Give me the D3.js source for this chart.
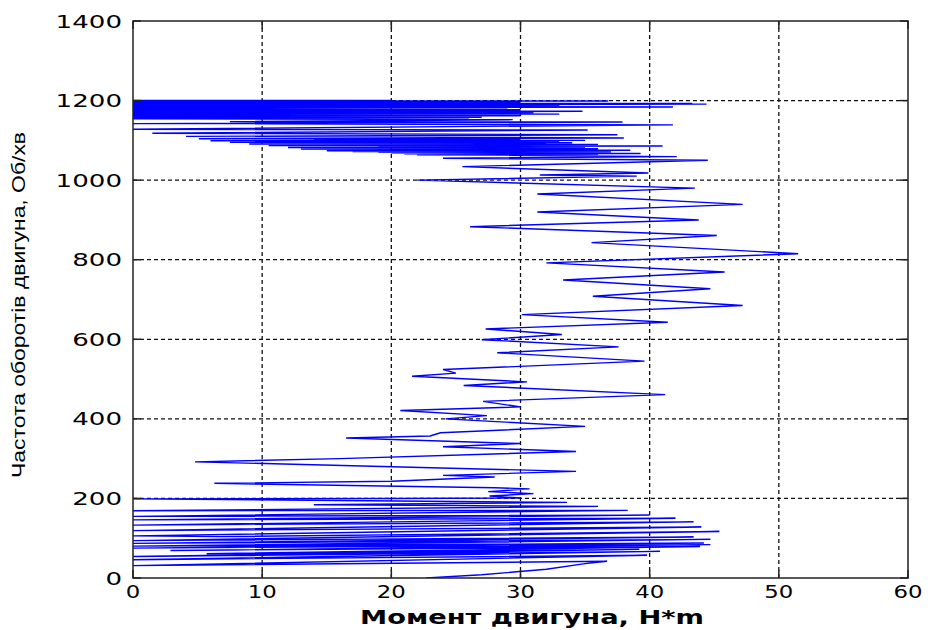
<!DOCTYPE html>
<html>
<head>
<meta charset="utf-8">
<script src="https://cdn.jsdelivr.net/npm/d3@7"></script>
<style>
  body { margin: 0; background: #fff; }
</style>
</head>
<body>
<div id="container"></div>
<script>
const width = 928, height = 630
const margin = {top: 21, right: 20, bottom: 52, left: 133}

const xTicks = [0, 10, 20, 30, 40, 50, 60]
const yTicks = [0, 200, 400, 600, 800, 1000, 1200, 1400]

// [torque, speed] turning points
// start-up, torque swinging down to the axis
const launch = [
    [22.7, 0], [27, 8], [32, 22], [35, 36], [36.7, 42],
    [0, 31], [39.8, 57],
    [0, 46], [40.8, 67],
    [0, 54], [39.2, 72],
    [5.7, 61], [43.9, 79],
    [2.9, 69], [44.7, 84],
    [0, 75], [44.2, 88],
    [0, 80], [44.7, 97],
    [0, 87], [43.4, 103],
    [0, 94], [45.4, 117],
    [6.7, 104], [0, 106], [44.0, 128],
    [0, 119], [43.4, 141],
    [0, 133], [42, 150],
    [0, 146], [40, 158],
    [0, 155], [38.3, 170],
    [0, 169], [36, 180],
    [14, 184], [33.6, 190],
    [0, 199]
]

// acceleration, 200..1060 rpm
const accel = [
    [20, 200], [30, 201], [27.6, 206], [31, 212], [27.5, 217], [30.7, 224], [28, 227],
    [6.3, 238], [20, 243], [28, 254], [24, 258], [34.3, 268], [4.8, 292], [16, 300],
    [34.3, 318], [24, 330], [30, 338], [16.5, 352], [23, 357], [23.8, 365], [35, 381],
    [24.2, 400], [27.4, 408], [20.7, 421], [30, 430], [27.1, 444], [41.2, 461],
    [25.6, 484], [30.5, 493], [21.6, 507], [25, 515], [24, 524], [39.6, 545],
    [28.2, 566], [37.6, 581], [27, 599], [33.2, 612], [27.3, 626], [41.4, 643],
    [30.1, 662], [47.2, 685], [35.6, 708], [44.7, 727], [33.3, 749], [45.8, 769],
    [32, 792], [51.5, 815], [35.5, 843], [45.2, 861], [26.1, 883], [43.8, 900],
    [31.3, 920], [47.2, 939], [31.3, 965], [43.5, 980], [22, 1000], [39, 1010],
    [31.5, 1013], [39.9, 1018], [25.5, 1034], [44.5, 1050], [24, 1055], [42.1, 1059]
]

// settling near 1200 rpm
const settle = [
    [22, 1064], [36, 1065], [21, 1066], [39.3, 1067], [20, 1068], [33, 1069],
    [19, 1070], [37, 1071], [17, 1072], [35, 1073], [15, 1074], [38.5, 1075],
    [20, 1076], [33, 1077], [13, 1078], [36, 1079], [18, 1080], [34, 1081],
    [12, 1082], [35, 1083], [19, 1084], [41, 1086], [10.5, 1087], [33, 1088],
    [17, 1089], [36, 1090], [9, 1091], [32, 1092], [16, 1093], [34, 1094],
    [7.5, 1095], [33, 1096], [18, 1097], [31, 1098], [6, 1099], [35, 1100],
    [14, 1101], [30, 1102], [5.1, 1104], [38, 1106], [4.1, 1110], [37.5, 1114],
    [1.5, 1118], [35.2, 1126], [0, 1128], [41.8, 1139], [0, 1142], [37.9, 1146],
    [7.5, 1147], [29.4, 1152], [0, 1154], [26, 1156], [0, 1157], [27, 1158],
    [0, 1159], [25, 1160], [0, 1161], [30, 1162], [0, 1163], [27, 1164],
    [0, 1165], [33, 1166], [0, 1167], [28, 1168], [0, 1169], [31, 1170],
    [0, 1171], [34.8, 1173], [0, 1174], [27, 1175], [0, 1176], [30, 1177],
    [0, 1178], [26, 1179], [0, 1180], [29, 1181], [0, 1182], [41.8, 1184],
    [0, 1185], [28, 1186], [0, 1187], [33, 1188], [0, 1189], [44.4, 1191],
    [0, 1192], [43.3, 1193], [0, 1194], [30, 1195], [0, 1196], [27, 1197],
    [0, 1198], [36.8, 1199], [0, 1200], [20, 1200]
]

const trace = launch.concat(accel, settle)

const x = d3.scaleLinear().domain([0, 60]).range([margin.left, width - margin.right])
const y = d3.scaleLinear().domain([0, 1400]).range([height - margin.bottom, margin.top])

const svg = d3.select("#container").append("svg")
    .attr("width", width)
    .attr("height", height)

svg.append("clipPath").attr("id", "plot-clip")
    .append("rect")
    .attr("x", x(0)).attr("y", y(1400))
    .attr("width", x(60) - x(0)).attr("height", y(0) - y(1400))

// grid
const grid = svg.append("g").attr("stroke", "#111").attr("stroke-width", 1.3).attr("stroke-dasharray", "4,3")
grid.selectAll(".gx").data(xTicks.slice(1, -1)).enter().append("line")
    .attr("x1", d => x(d)).attr("x2", d => x(d))
    .attr("y1", y(0)).attr("y2", y(1400))
grid.selectAll(".gy").data(yTicks.slice(1, -1)).enter().append("line")
    .attr("x1", x(0)).attr("x2", x(60))
    .attr("y1", d => y(d)).attr("y2", d => y(d))

// the trace
const line = d3.line().x(d => x(d[0])).y(d => y(d[1]))
svg.append("path")
    .datum(trace)
    .attr("clip-path", "url(#plot-clip)")
    .attr("fill", "none")
    .attr("stroke", "#0000ff")
    .attr("stroke-width", 1.4)
    .attr("stroke-linejoin", "miter")
    .attr("d", line)

// box and inward ticks
const axes = svg.append("g").attr("stroke", "#222").attr("stroke-width", 1.5).attr("fill", "none")
axes.append("rect")
    .attr("x", x(0)).attr("y", y(1400))
    .attr("width", x(60) - x(0)).attr("height", y(0) - y(1400))
const tl = 8
xTicks.forEach(t => {
    axes.append("line").attr("x1", x(t)).attr("x2", x(t)).attr("y1", y(0)).attr("y2", y(0) - tl)
    axes.append("line").attr("x1", x(t)).attr("x2", x(t)).attr("y1", y(1400)).attr("y2", y(1400) + tl)
})
yTicks.forEach(t => {
    axes.append("line").attr("x1", x(0)).attr("x2", x(0) + tl).attr("y1", y(t)).attr("y2", y(t))
    axes.append("line").attr("x1", x(60)).attr("x2", x(60) - tl).attr("y1", y(t)).attr("y2", y(t))
})

// tick labels (the reference is stretched sideways, so widths are forced)
svg.selectAll(".xl").data(xTicks).enter().append("text")
    .attr("x", d => x(d)).attr("y", y(0) + 20)
    .attr("text-anchor", "middle")
    .attr("font-family", "DejaVu Sans")
    .attr("font-size", 17)
    .attr("textLength", d => String(d).length * 14.5)
    .attr("lengthAdjust", "spacingAndGlyphs")
    .text(d => d)

svg.selectAll(".yl").data(yTicks).enter().append("text")
    .attr("x", x(0) - 11).attr("y", d => y(d) + 6.5)
    .attr("text-anchor", "end")
    .attr("font-family", "DejaVu Sans")
    .attr("font-size", 18)
    .attr("textLength", d => String(d).length * 16.6)
    .attr("lengthAdjust", "spacingAndGlyphs")
    .text(d => d)

svg.append("text")
    .attr("x", 532).attr("y", 624)
    .attr("text-anchor", "middle")
    .attr("font-family", "DejaVu Sans")
    .attr("font-weight", "bold")
    .attr("font-size", 19)
    .attr("textLength", 344)
    .attr("lengthAdjust", "spacingAndGlyphs")
    .text("Момент двигуна, Н*m")

svg.append("text")
    .attr("transform", "translate(25,305) rotate(-90)")
    .attr("text-anchor", "middle")
    .attr("font-family", "Liberation Sans")
    .attr("font-size", 18)
    .attr("textLength", 346)
    .attr("lengthAdjust", "spacingAndGlyphs")
    .text("Частота оборотів двигуна, Об/хв")
</script>
</body>
</html>
